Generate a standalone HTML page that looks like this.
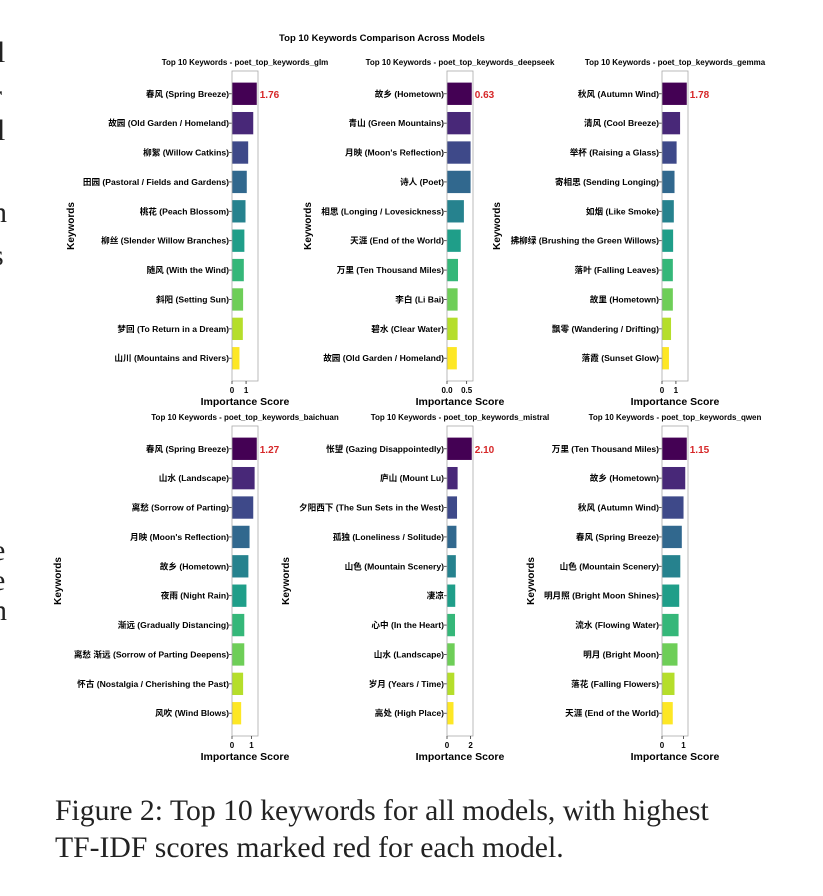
<!DOCTYPE html>
<html><head><meta charset="utf-8"><style>
body{margin:0;background:#fff;width:823px;height:896px;overflow:hidden;position:relative}
svg{position:absolute;left:0;top:0}
text{font-family:"Liberation Sans","Noto Sans CJK SC",sans-serif;font-weight:bold}
text.serif{font-family:"Liberation Serif",serif;font-weight:normal}
.cap{position:absolute;left:55px;font-family:"Liberation Serif",serif;font-size:29.7px;color:#222;white-space:nowrap}
</style></head><body>
<svg id="chart" width="823" height="896">
<text x="382" y="41" font-size="9.5" text-anchor="middle">Top 10 Keywords Comparison Across Models</text>
<text class="serif" x="-3" y="62" font-size="30" fill="#222">l</text>
<text class="serif" x="-8" y="105" font-size="30" fill="#222">r</text>
<text class="serif" x="-3" y="140" font-size="30" fill="#222">l</text>
<text class="serif" x="-8" y="222" font-size="30" fill="#222">n</text>
<text class="serif" x="-8" y="265" font-size="30" fill="#222">s</text>
<text class="serif" x="-8" y="560" font-size="30" fill="#222">e</text>
<text class="serif" x="-8" y="590" font-size="30" fill="#222">e</text>
<text class="serif" x="-8" y="620" font-size="30" fill="#222">n</text>
</svg>
<div class="cap" style="top:795px">Figure 2: Top 10 keywords for all models, with highest</div>
<div class="cap" style="top:832px">TF-IDF scores marked red for each model.</div>
<script>
const models=["glm","deepseek","gemma","baichuan","mistral","qwen"];
const kwGlm=["春风 (Spring Breeze)","故园 (Old Garden / Homeland)","柳絮 (Willow Catkins)","田园 (Pastoral / Fields and Gardens)","桃花 (Peach Blossom)","柳丝 (Slender Willow Branches)","随风 (With the Wind)","斜阳 (Setting Sun)","梦回 (To Return in a Dream)","山川 (Mountains and Rivers)"];
const valGlm=[1.76,1.51,1.15,1.05,0.96,0.88,0.84,0.79,0.77,0.53];
const kwDeepseek=["故乡 (Hometown)","青山 (Green Mountains)","月映 (Moon's Reflection)","诗人 (Poet)","相思 (Longing / Lovesickness)","天涯 (End of the World)","万里 (Ten Thousand Miles)","李白 (Li Bai)","碧水 (Clear Water)","故园 (Old Garden / Homeland)"];
const valDeepseek=[0.63,0.60,0.60,0.60,0.43,0.35,0.28,0.27,0.27,0.25];
const kwGemma=["秋风 (Autumn Wind)","清风 (Cool Breeze)","举杯 (Raising a Glass)","寄相思 (Sending Longing)","如烟 (Like Smoke)","拂柳绿 (Brushing the Green Willows)","落叶 (Falling Leaves)","故里 (Hometown)","飘零 (Wandering / Drifting)","落霞 (Sunset Glow)"];
const valGemma=[1.78,1.30,1.05,0.90,0.85,0.80,0.78,0.78,0.65,0.50];
const kwBaichuan=["春风 (Spring Breeze)","山水 (Landscape)","离愁 (Sorrow of Parting)","月映 (Moon's Reflection)","故乡 (Hometown)","夜雨 (Night Rain)","渐远 (Gradually Distancing)","离愁 渐远 (Sorrow of Parting Deepens)","怀古 (Nostalgia / Cherishing the Past)","风吹 (Wind Blows)"];
const valBaichuan=[1.27,1.16,1.09,0.90,0.84,0.74,0.63,0.63,0.57,0.47];
const kwMistral=["怅望 (Gazing Disappointedly)","庐山 (Mount Lu)","夕阳西下 (The Sun Sets in the West)","孤独 (Loneliness / Solitude)","山色 (Mountain Scenery)","凄凉","心中 (In the Heart)","山水 (Landscape)","岁月 (Years / Time)","高处 (High Place)"];
const valMistral=[2.10,0.90,0.85,0.80,0.75,0.70,0.68,0.65,0.62,0.55];
const kwQwen=["万里 (Ten Thousand Miles)","故乡 (Hometown)","秋风 (Autumn Wind)","春风 (Spring Breeze)","山色 (Mountain Scenery)","明月照 (Bright Moon Shines)","流水 (Flowing Water)","明月 (Bright Moon)","落花 (Falling Flowers)","天涯 (End of the World)"];
const valQwen=[1.15,1.08,1.00,0.92,0.85,0.80,0.77,0.72,0.58,0.50];
const tickGlm=[0,1],tickDeepseek=[0.0,0.5],tickGemma=[0,1],tickBaichuan=[0,1],tickMistral=[0,2],tickQwen=[0,1];
const kws=[kwGlm,kwDeepseek,kwGemma,kwBaichuan,kwMistral,kwQwen];
const vals=[valGlm,valDeepseek,valGemma,valBaichuan,valMistral,valQwen];
const ticks=[tickGlm,tickDeepseek,tickGemma,tickBaichuan,tickMistral,tickQwen];
const viridis=["#440154","#482878","#3e4989","#31688e","#26828e","#1f9e89","#35b779","#6ece58","#b5de2b","#fde725"];
const svg=document.getElementById('chart');
const NS="http://www.w3.org/2000/svg";
function mk(tag,attrs,parent){const e=document.createElementNS(NS,tag);for(const k in attrs)e.setAttribute(k,attrs[k]);(parent||svg).appendChild(e);return e;}
const boxX=[232,447,662],boxW=26;
const rowTop=[71,426],rowH=310,ylabX=[[74,311,500],[61,289,534]];
for(let m=0;m<6;m++){
  const r=Math.floor(m/3),c=m%3;
  const x0=boxX[c],y0=rowTop[r];
  const v=vals[m],k=kws[m];
  const xmax=Math.max(...v)*1.05;
  const xs=d=>x0+d/xmax*boxW;
  const band=rowH/10.55, off=rowH/2-band*4.5;
  const ys=i=>y0+off+i*band;
  const g=mk('g',{});
  
  
  const t=mk('text',{x:x0+boxW/2,y:y0-6,'font-size':'8','text-anchor':'middle'},g);
  t.textContent='Top 10 Keywords - poet_top_keywords_'+models[m];
  
  
  for(let i=0;i<10;i++){
    const bh=band*0.76;
    const b=mk('rect',{x:x0,y:ys(i)-bh/2,width:xs(v[i])-x0,height:bh,fill:viridis[i]},g);
    
    
    mk('line',{x1:x0-3,x2:x0,y1:ys(i),y2:ys(i),stroke:'#333','stroke-width':0.8},g);
    const l=mk('text',{x:x0-3,y:ys(i)+3,'font-size':'8.6','text-anchor':'end'},g);
    l.textContent=k[i];
    
    
  }
  const hv=mk('text',{x:xs(v[0])+3,y:ys(0)+4,'font-size':'10',fill:'#d62728'},g);
  hv.textContent=v[0].toFixed(2);
  
  
  const box=mk('rect',{x:x0,y:y0,width:boxW,height:rowH,fill:'none',stroke:'#aaa','stroke-width':0.8},g);
  
  
  ticks[m].forEach(tv=>{
    mk('line',{x1:xs(tv),x2:xs(tv),y1:y0+rowH,y2:y0+rowH+3,stroke:'#333','stroke-width':0.8},g);
    const tt=mk('text',{x:xs(tv),y:y0+rowH+12,'font-size':'8','text-anchor':'middle'},g);
    tt.textContent=(m===1)?tv.toFixed(1):String(tv);
    
    
  });
  const xl=mk('text',{x:x0+boxW/2,y:y0+rowH+24,'font-size':'10.5','text-anchor':'middle'},g);
  xl.textContent='Importance Score';
  
  
  const yx=ylabX[r][c],yy=y0+rowH/2;
  const yl=mk('text',{x:yx,y:yy,'font-size':'10','text-anchor':'middle',transform:`rotate(-90 ${yx} ${yy})`},g);
  yl.textContent='Keywords';
  
  
}
</script>
</body></html>
